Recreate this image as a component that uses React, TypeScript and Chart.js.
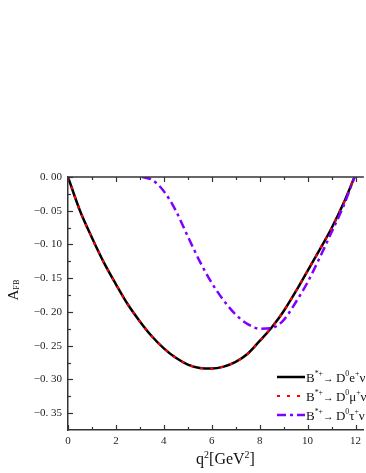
import React, { useEffect, useRef } from "react";
import { Chart, registerables } from "chart.js";

Chart.register(...registerables);

// ---- data ----
const qGrid = [0, 0.5, 1, 1.5, 2, 2.5, 3, 3.5, 4, 4.5, 5, 5.5, 6, 6.5, 7, 7.5, 8, 8.5, 9, 9.5, 10, 10.5, 11, 11.5, 11.96];
const eValues = [0, -0.05, -0.09, -0.127, -0.159, -0.189, -0.214, -0.236, -0.254, -0.268, -0.278, -0.283, -0.284, -0.281, -0.274, -0.262, -0.243, -0.223, -0.199, -0.17, -0.139, -0.108, -0.076, -0.039, 0];
const muValues = [0, -0.05, -0.09, -0.127, -0.159, -0.189, -0.214, -0.236, -0.254, -0.268, -0.278, -0.283, -0.284, -0.281, -0.274, -0.262, -0.243, -0.223, -0.199, -0.17, -0.139, -0.108, -0.076, -0.039, 0];
const qTau = [3.1, 3.5, 4, 4.5, 5, 5.5, 6, 6.5, 7, 7.5, 8, 8.5, 9, 9.5, 10, 10.5, 11, 11.5, 11.96];
const tauValues = [0, -0.004, -0.021, -0.05, -0.088, -0.125, -0.157, -0.183, -0.204, -0.218, -0.225, -0.224, -0.212, -0.186, -0.156, -0.12, -0.082, -0.043, 0];

const xTicks = [0, 2, 4, 6, 8, 10, 12];
const xMinorTicks = [1, 3, 5, 7, 9, 11];
const yTicks = [-0.35, -0.3, -0.25, -0.2, -0.15, -0.1, -0.05, 0];
const yTickLabels = ["\u22120. 35", "\u22120. 30", "\u22120. 25", "\u22120. 20", "\u22120. 15", "\u22120. 10", "\u22120. 05", "0. 00"];
const yMinorTicks = [-0.325, -0.275, -0.225, -0.175, -0.125, -0.075, -0.025];

type Part = { t: string; sup?: boolean; sub?: boolean; scale?: number };
const legendLabels: Part[][] = [
  [{ t: "B" }, { t: "*+", sup: true }, { t: "\u2192 ", scale: 0.8 }, { t: "D" }, { t: "0", sup: true }, { t: "e" }, { t: "+", sup: true }, { t: "\u03bd" }],
  [{ t: "B" }, { t: "*+", sup: true }, { t: "\u2192 ", scale: 0.8 }, { t: "D" }, { t: "0", sup: true }, { t: "\u03bc" }, { t: "+", sup: true }, { t: "\u03bd" }],
  [{ t: "B" }, { t: "*+", sup: true }, { t: "\u2192 ", scale: 0.8 }, { t: "D" }, { t: "0", sup: true }, { t: "\u03c4" }, { t: "+", sup: true }, { t: "\u03bd" }],
];
const xTitle: Part[] = [{ t: "q" }, { t: "2", sup: true }, { t: "[GeV" }, { t: "2", sup: true }, { t: "]" }];
const yTitle: Part[] = [{ t: "A" }, { t: "FB", sub: true }];

const seriesColors = ["#000000", "#ff0000", "#8000ff"];
const seriesDash = [[], [3, 7], [9, 4, 3, 4]];
const seriesWidth = [2.5, 2.2, 2.5];

const SERIF = "'Liberation Serif', 'Times New Roman', serif";

function partsWidth(ctx: CanvasRenderingContext2D, parts: Part[], size: number, subScale = 0.62) {
  let w = 0;
  for (const p of parts) {
    const s = p.sup || p.sub ? size * subScale : size * (p.scale || 1);
    ctx.font = `${s}px ${SERIF}`;
    w += ctx.measureText(p.t).width;
  }
  return w;
}

function drawParts(ctx: CanvasRenderingContext2D, parts: Part[], x: number, y: number, size: number, subScale = 0.62, subDy = 0.25) {
  let cx = x;
  ctx.textBaseline = "alphabetic";
  ctx.textAlign = "left";
  for (const p of parts) {
    const s = p.sup || p.sub ? size * subScale : size * (p.scale || 1);
    const dy = p.sup ? -size * 0.4 : p.sub ? size * subDy : 0;
    ctx.font = `${s}px ${SERIF}`;
    ctx.fillText(p.t, cx, y + dy);
    cx += ctx.measureText(p.t).width;
  }
}

const decorPlugin = {
  id: "decor",
  afterDraw(chart: any) {
    const ctx: CanvasRenderingContext2D = chart.ctx;
    const { left, right, top, bottom } = chart.chartArea;
    const xs = chart.scales.x;
    const ys = chart.scales.y;
    ctx.save();
    // top axis line
    ctx.strokeStyle = "#333";
    ctx.lineWidth = 1.5;
    ctx.setLineDash([]);
    ctx.beginPath();
    ctx.moveTo(left, top);
    ctx.lineTo(right, top);
    ctx.stroke();
    // inward ticks
    ctx.lineWidth = 1.2;
    const tick = (x1: number, y1: number, x2: number, y2: number) => {
      ctx.beginPath();
      ctx.moveTo(x1, y1);
      ctx.lineTo(x2, y2);
      ctx.stroke();
    };
    for (const v of xTicks) {
      const px = Math.round(xs.getPixelForValue(v)) + 0.5;
      tick(px, bottom, px, bottom - 5);
      tick(px, top, px, top + 5);
    }
    for (const v of xMinorTicks) {
      const px = Math.round(xs.getPixelForValue(v)) + 0.5;
      tick(px, bottom, px, bottom - 3);
      tick(px, top, px, top + 3);
    }
    for (const v of yTicks) {
      const py = Math.round(ys.getPixelForValue(v)) + 0.5;
      tick(left, py, left + 5, py);
    }
    for (const v of yMinorTicks) {
      const py = Math.round(ys.getPixelForValue(v)) + 0.5;
      tick(left, py, left + 3, py);
    }

    // legend
    const legendY = [377, 396, 415];
    for (let i = 0; i < legendLabels.length; i++) {
      const y = legendY[i];
      ctx.strokeStyle = seriesColors[i];
      ctx.lineWidth = seriesWidth[i];
      ctx.setLineDash(seriesDash[i]);
      ctx.beginPath();
      ctx.moveTo(277, y);
      ctx.lineTo(305, y);
      ctx.stroke();
      ctx.setLineDash([]);
      ctx.fillStyle = "#111";
      drawParts(ctx, legendLabels[i], 306, y + 4.5, 13, 0.6);
    }

    // x title
    ctx.fillStyle = "#111";
    const w = partsWidth(ctx, xTitle, 16);
    drawParts(ctx, xTitle, 225.5 - w / 2, 464, 16);

    // y title
    ctx.save();
    ctx.translate(17.5, 300.5);
    ctx.rotate(-Math.PI / 2);
    drawParts(ctx, yTitle, 0, 0, 15, 0.55, 0.1);
    ctx.restore();

    ctx.restore();
  },
};

export default function App() {
  const ref = useRef<HTMLCanvasElement>(null);
  useEffect(() => {
    if (!ref.current) return;
    const mk = (xs: number[], ys: number[]) => xs.map((x, i) => ({ x, y: ys[i] }));
    const chart = new Chart(ref.current, {
      type: "line",
      data: {
        datasets: [
          {
            label: "e",
            data: mk(qGrid, eValues),
            borderColor: seriesColors[0],
            borderWidth: seriesWidth[0],
            borderDash: seriesDash[0],
            pointRadius: 0,
            cubicInterpolationMode: "monotone",
            order: 3,
          },
          {
            label: "mu",
            data: mk(qGrid, muValues),
            borderColor: seriesColors[1],
            borderWidth: seriesWidth[1],
            borderDash: seriesDash[1],
            pointRadius: 0,
            cubicInterpolationMode: "monotone",
            order: 2,
          },
          {
            label: "tau",
            data: mk(qTau, tauValues),
            borderColor: seriesColors[2],
            borderWidth: seriesWidth[2],
            borderDash: seriesDash[2],
            pointRadius: 0,
            cubicInterpolationMode: "monotone",
            order: 1,
          },
        ],
      },
      options: {
        responsive: false,
        devicePixelRatio: 1,
        animation: false,
        layout: { padding: { top: 177, right: 0, left: 0, bottom: 0 } },
        plugins: { legend: { display: false }, tooltip: { enabled: false } },
        scales: {
          x: {
            type: "linear",
            min: 0,
            max: 12.35,
            grid: { display: false, drawTicks: false },
            border: { display: true, color: "#333", width: 1.5 },
            afterBuildTicks: (s: any) => {
              s.ticks = xTicks.map((v) => ({ value: v }));
            },
            afterFit: (s: any) => {
              s.height = 43;
            },
            ticks: {
              autoSkip: false,
              maxRotation: 0,
              padding: 5,
              color: "#222",
              font: { family: SERIF, size: 11 },
              callback: (v: any) => String(v),
            },
          },
          y: {
            type: "linear",
            min: -0.375,
            max: 0,
            grid: { display: false, drawTicks: false },
            border: { display: true, color: "#333", width: 1.5 },
            afterBuildTicks: (s: any) => {
              s.ticks = yTicks.map((v) => ({ value: v }));
            },
            afterFit: (s: any) => {
              s.width = 68;
            },
            ticks: {
              autoSkip: false,
              padding: 6,
              color: "#222",
              font: { family: SERIF, size: 11 },
              callback: (_v: any, i: number) => yTickLabels[i],
            },
          },
        },
      },
      plugins: [decorPlugin],
    } as any);
    return () => chart.destroy();
  }, []);
  return (
    <div style={{ position: "fixed", left: 0, top: 0, width: 366, height: 473, background: "#fff" }}>
      <canvas ref={ref} width={366} height={473} style={{ display: "block" }} />
    </div>
  );
}
